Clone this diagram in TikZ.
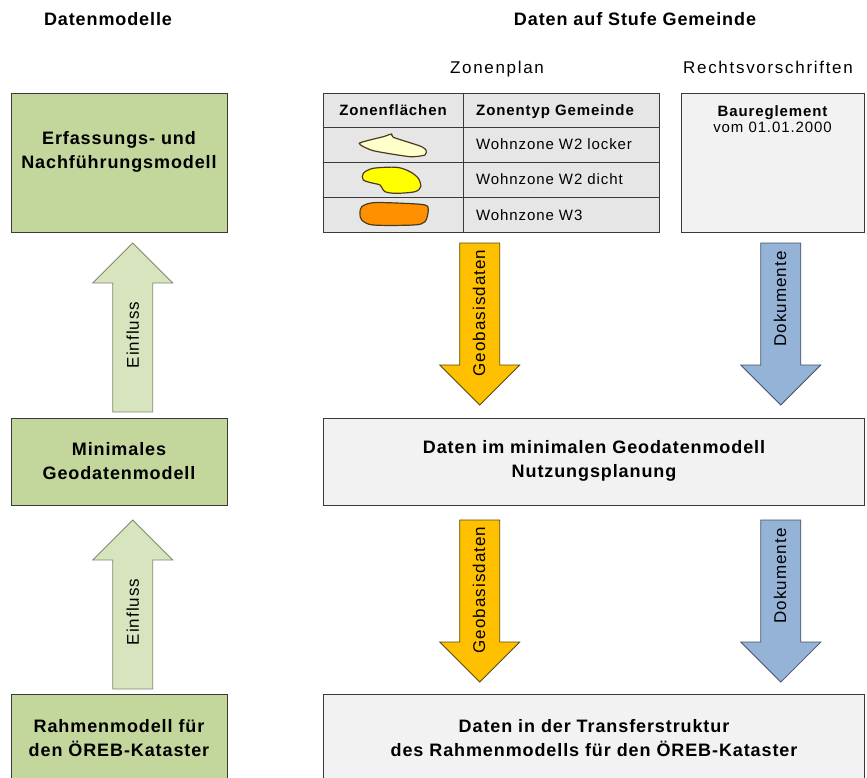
\documentclass[tikz,border=0pt]{standalone}
\usepackage{fontspec}
\setmainfont{Liberation Sans}
\newfontfamily\lsA[LetterSpace=5]{Liberation Sans}
\newfontfamily\lsB[LetterSpace=6]{Liberation Sans}
\newfontfamily\lsC[LetterSpace=10]{Liberation Sans}
\definecolor{greenfill}{HTML}{C3D69B}
\definecolor{einflfill}{HTML}{D7E4BD}
\definecolor{einflline}{HTML}{808A70}
\definecolor{geofill}{HTML}{FFC000}
\definecolor{geoline}{HTML}{5A4A10}
\definecolor{dokfill}{HTML}{95B3D7}
\definecolor{dokline}{HTML}{44506A}
\definecolor{lightfill}{HTML}{F2F2F2}
\definecolor{tablefill}{HTML}{E6E6E6}
\definecolor{boxline}{HTML}{3A3A3A}
\definecolor{blobline}{HTML}{4A3A20}
\definecolor{blobA}{HTML}{FFFFCC}
\definecolor{blobB}{HTML}{FFFF00}
\definecolor{blobC}{HTML}{FF9000}
\newcommand\uparr[5]{\draw[#5] (#1,#2) -- (#1+40,#3) -- (#1+20,#3) -- (#1+20,#4) -- (#1-20,#4) -- (#1-20,#3) -- (#1-40,#3) -- cycle;}
\newcommand\dnarr[5]{\draw[#5] (#1-20,#2) -- (#1+20,#2) -- (#1+20,#3) -- (#1+40,#3) -- (#1,#4) -- (#1-40,#3) -- (#1-20,#3) -- cycle;}
\begin{document}
\begin{tikzpicture}[x=1pt,y=-1pt,
  greenbox/.style={draw=boxline, fill=greenfill, line width=1pt, inner sep=0pt, anchor=north west},
  graybox/.style={draw=boxline, fill=lightfill, line width=1pt, inner sep=0pt, anchor=north west},
  cell/.style={draw=boxline, fill=tablefill, line width=1pt, inner sep=0pt, anchor=north west},
  bigtxt/.style={font=\lsA\fontsize{18}{24}\selectfont\bfseries, align=center, inner sep=0pt},
  headtxt/.style={font=\lsA\fontsize{18}{24}\selectfont\bfseries, anchor=base, inner sep=0pt},
  subtxt/.style={font=\lsC\fontsize{17}{20}\selectfont, anchor=base, inner sep=0pt},
  tabbold/.style={font=\lsB\fontsize{15}{18}\selectfont\bfseries, anchor=base, inner sep=0pt},
  tabtxt/.style={font=\lsB\fontsize{15}{18}\selectfont, anchor=base west, inner sep=0pt},
  arrtxt/.style={font=\lsB\fontsize{17}{20}\selectfont, rotate=90, inner sep=0pt},
  einfl/.style={draw=einflline, fill=einflfill, line width=0.8pt},
  geo/.style={draw=geoline, fill=geofill, line width=0.8pt},
  dok/.style={draw=dokline, fill=dokfill, line width=0.8pt},
  blob/.style={draw=blobline, line width=1.2pt}
]
\clip (0,0) rectangle (867,778);
\fill[white] (0,0) rectangle (867,778);

% headings
\node[headtxt] (hdm) at (108,25.5) {Datenmodelle};
\node[headtxt] (hdg) at (635,25.5) {Daten auf Stufe Gemeinde};
\node[subtxt] (hzp) at (497,74) {Zonenplan};
\node[subtxt] (hrv) at (768,74) {Rechtsvorschriften};

% left model boxes
\node[greenbox, minimum width=216pt, minimum height=139pt] (m1) at (11,93) {};
\node[greenbox, minimum width=216pt, minimum height=87pt] (m2) at (11,418) {};
\node[greenbox, minimum width=216pt, minimum height=110pt] (m3) at (11,694) {};
\node[bigtxt] (t1) at (119,152) {Erfassungs- und\\Nachführungsmodell};
\node[bigtxt] (t2) at (119,461) {Minimales\\Geodatenmodell};
\node[bigtxt] (t3) at (119,738) {Rahmenmodell für\\den ÖREB-Kataster};

% right data boxes
\node[graybox, minimum width=183pt, minimum height=139pt] (rv) at (681,93) {};
\node[graybox, minimum width=541pt, minimum height=87pt] (d2) at (323,418) {};
\node[graybox, minimum width=541pt, minimum height=110pt] (d3) at (323,694) {};
\node[tabbold] (bau) at (772.5,116.5) {Baureglement};
\node[font=\lsB\fontsize{15}{18}\selectfont, anchor=base, inner sep=0pt] (vom) at (772.5,132.5) {vom 01.01.2000};
\node[bigtxt] (dt2) at (594,461) {Daten im minimalen Geodatenmodell\\Nutzungsplanung};
\node[bigtxt] (dt3) at (594,738) {Daten in der Transferstruktur\\des Rahmenmodells für den ÖREB-Kataster};

% table
\foreach \r/\y/\h in {0/93/34,1/127/35,2/162/35,3/197/35}{
  \node[cell, minimum width=140pt, minimum height=\h pt] (ca\r) at (323,\y) {};
  \node[cell, minimum width=196pt, minimum height=\h pt] (cb\r) at (463,\y) {};
}
\node[tabbold] (hz1) at (393,115.5) {Zonenflächen};
\node[tabbold, anchor=base west] (hz2) at (476,115.5) {Zonentyp Gemeinde};
\node[tabtxt] (w1) at (476,150) {Wohnzone W2 locker};
\node[tabtxt] (w2) at (476,185) {Wohnzone W2 dicht};
\node[tabtxt] (w3) at (476,220) {Wohnzone W3};

% zone blobs
\draw[blob, fill=blobA] plot[smooth cycle, tension=0.35] coordinates {(359.3,143.3) (383.3,136.7) (391.7,134) (393.3,137.3) (420,146) (426,150) (425,155) (410,156.7) (373.3,150.7)};
\draw[blob, fill=blobB] plot[smooth cycle, tension=0.5] coordinates {(363.3,173.3) (373.3,168.3) (396.7,167.3) (410,171.7) (418.3,178.3) (420.7,186.7) (415,191.7) (396.7,193.3) (385,191.7) (380,185) (373.3,183.3) (363.3,180)};
\draw[blob, fill=blobC] plot[smooth cycle, tension=0.5] coordinates {(361.7,206.7) (373.3,202.7) (403.3,203.3) (425,205) (428.3,210) (425,221.7) (413.3,225) (373.3,225) (361.7,220) (360,213.3)};

% block arrows, first level
\uparr{132.7}{243}{283}{412}{einfl}
\dnarr{479.7}{243}{365}{405}{geo}
\dnarr{780.8}{243}{365}{405}{dok}
\node[arrtxt] (e1) at (132.7,335) {Einfluss};
\node[arrtxt] (g1) at (479,313) {Geobasisdaten};
\node[arrtxt] (k1) at (780,299) {Dokumente};

% block arrows, second level
\uparr{132.7}{520}{560}{689}{einfl}
\dnarr{479.7}{520}{642}{682}{geo}
\dnarr{780.8}{520}{642}{682}{dok}
\node[arrtxt] (e2) at (132.7,612) {Einfluss};
\node[arrtxt] (g2) at (479,590) {Geobasisdaten};
\node[arrtxt] (k2) at (780,576) {Dokumente};
\end{tikzpicture}
\end{document}
